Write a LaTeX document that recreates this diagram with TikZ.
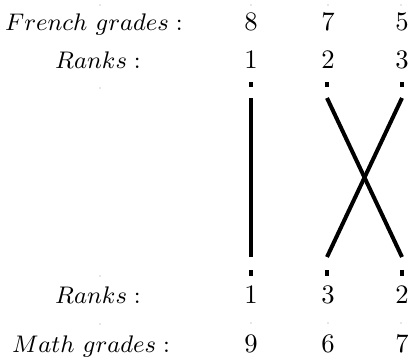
\documentclass[tikz,border=0pt]{standalone}
\begin{document}
\begin{tikzpicture}[x=0.375pt,y=-0.375pt,
  lbl/.style={anchor=base,inner sep=0pt,font=\fontsize{9.5}{11}\selectfont},
  num/.style={anchor=base,inner sep=0pt,font=\fontsize{10}{12}\selectfont},
  tick/.style={fill=black,minimum width=1.5pt,minimum height=1.9pt,inner sep=0pt,outer sep=0pt},
  pin/.style={fill=black!40,circle,inner sep=0pt,minimum size=0.45pt},
  link/.style={line width=1.5pt,line cap=butt}]
\useasboundingbox (0,0) rectangle (408,361);
% row labels
\node[lbl] (fg) at (94,30)  {$French\ grades:$};
\node[lbl] (rt) at (98,68)  {$Ranks:$};
\node[lbl] (rb) at (98,303) {$Ranks:$};
\node[lbl] (mg) at (91,352) {$Math\ grades:$};
% numbers
\node[num] (f1) at (251,30) {8};
\node[num] (f2) at (328,30) {7};
\node[num] (f3) at (402,30) {5};
\node[num] (t1) at (251,68) {1};
\node[num] (t2) at (328,68) {2};
\node[num] (t3) at (402,68) {3};
\node[num] (b1) at (251,303) {1};
\node[num] (b2) at (328,303) {3};
\node[num] (b3) at (402,303) {2};
\node[num] (m1) at (251,352) {9};
\node[num] (m2) at (328,352) {6};
\node[num] (m3) at (402,352) {7};
% small anchor dots
\foreach \x/\y in {100/5,251/5,328/5,401/5,100/88,100/276,100/324,251/323,328/323,401/323}
  \node[pin] at (\x,\y) {};
% square marks
\node[tick] (s1) at (251,84.5) {};
\node[tick] (s2) at (327,84.5) {};
\node[tick] (s3) at (402,84.5) {};
\node[tick] (u1) at (251,273) {};
\node[tick] (u2) at (327,273) {};
\node[tick] (u3) at (402,273) {};
% line ends
\coordinate (a1) at (251,98);
\coordinate (a2) at (327,98);
\coordinate (a3) at (402,98);
\coordinate (z1) at (251,257);
\coordinate (z2) at (327,257);
\coordinate (z3) at (402,257);
\draw[link] (a1) -- (z1);
\draw[link] (a2) -- (z3);
\draw[link] (a3) -- (z2);
\end{tikzpicture}
\end{document}
